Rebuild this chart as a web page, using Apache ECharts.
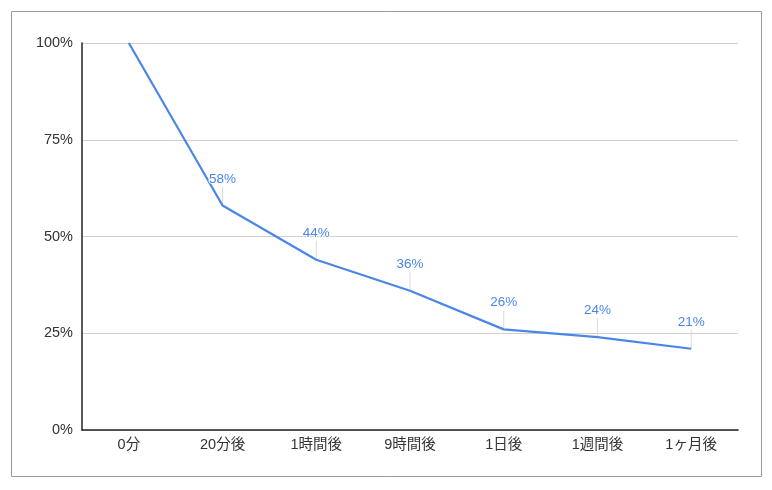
<!DOCTYPE html>
<html><head><meta charset="utf-8">
<script src="https://cdn.jsdelivr.net/npm/echarts@6/dist/echarts.min.js"></script>
<style>html,body{margin:0;padding:0;background:#fff}#c{width:772px;height:490px}</style>
</head><body><div id="c"></div>
<script>
const categories = ['0分','20分後','1時間後','9時間後','1日後','1週間後','1ヶ月後'];
const values = [100,58,44,36,26,24,21];
const yTicks = [0,25,50,75,100];

const chart = echarts.init(document.getElementById('c'));
const font = 'Arial, "Liberation Sans", "Noto Sans CJK JP", sans-serif';
chart.setOption({
  animation:false,
  textStyle:{fontFamily:font},
  graphic:[{type:'rect',shape:{x:11.5,y:11.5,width:750,height:465},style:{fill:'none',stroke:'#9a9a9a',lineWidth:1},z:-1}],
  grid:{left:82,right:34,top:43,bottom:60},
  xAxis:{type:'category',data:categories,boundaryGap:true,
    axisLine:{lineStyle:{color:'#222',width:1.5}},
    axisTick:{alignWithLabel:true,inside:true,length:7,lineStyle:{color:'#aaa'}},
    axisLabel:{color:'#333',fontSize:14.5,margin:8,fontFamily:font}},
  yAxis:{type:'value',min:0,max:100,interval:25,
    axisLine:{show:true,lineStyle:{color:'#222',width:1.5}},
    axisTick:{show:false},
    splitLine:{lineStyle:{color:'#d0d0d0'}},
    axisLabel:{color:'#333',fontSize:14.5,margin:9,fontFamily:font,
      formatter:v=>yTicks.includes(v)?v+'%':''}},
  series:[
   {type:'custom',silent:true,z:1,
    renderItem:(params,api)=>{
      if(params.dataIndex===0) return null;
      const p=api.coord([api.value(0),api.value(1)]);
      return {type:'line',shape:{x1:p[0],y1:p[1],x2:p[0],y2:p[1]-19},style:{stroke:'#dcdcdc',lineWidth:1}};
    },
    data:values.map((v,i)=>[i,v])},
   {type:'line',z:2,data:values.map((v,i)=>i===0?{value:v,label:{show:false}}:v),
    symbol:'circle',symbolSize:0,showSymbol:true,lineStyle:{color:'#4a86e8',width:2.2},itemStyle:{color:'#4a86e8'},
    label:{show:true,position:'top',distance:20,color:'#4a86e8',fontSize:13.5,fontFamily:font,
      textBorderColor:'#fff',textBorderWidth:2,formatter:p=>p.value+'%'}
   }]
});
</script></body></html>
